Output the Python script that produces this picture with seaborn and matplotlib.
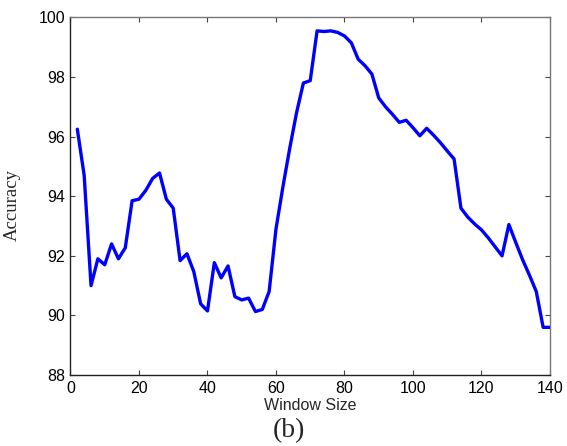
import numpy as np
import pandas as pd
import seaborn as sns
import matplotlib
matplotlib.use('Agg')
import matplotlib.pyplot as plt

# Values
window_size = [2, 4, 6, 8, 10, 12, 14, 16, 18, 20,
               22, 24, 26, 28, 30, 32, 34, 36, 38, 40,
               42, 44, 46, 48, 50, 52, 54, 56, 58, 60,
               62, 64, 66, 68, 70, 72, 74, 76, 78, 80,
               82, 84, 86, 88, 90, 92, 94, 96, 98, 100,
               102, 104, 106, 108, 110, 112, 114, 116, 118, 120,
               122, 124, 126, 128, 130, 132, 134, 136, 138, 140]
accuracy = [96.25, 94.7, 91.0, 91.9, 91.7, 92.4, 91.9, 92.27, 93.85, 93.9,
            94.2, 94.6, 94.78, 93.9, 93.6, 91.84, 92.07, 91.47, 90.39, 90.15,
            91.77, 91.26, 91.66, 90.63, 90.52, 90.58, 90.13, 90.2, 90.8, 92.9,
            94.3, 95.6, 96.8, 97.8, 97.88, 99.55, 99.53, 99.55, 99.5, 99.38,
            99.15, 98.6, 98.38, 98.1, 97.3, 97.0, 96.75, 96.48, 96.55, 96.3,
            96.03, 96.28, 96.05, 95.8, 95.52, 95.25, 93.6, 93.3, 93.07, 92.87,
            92.6, 92.3, 92.0, 93.05, 92.45, 91.87, 91.35, 90.8, 89.6, 89.6]
x_ticks = [0, 20, 40, 60, 80, 100, 120, 140]
y_ticks = [88, 90, 92, 94, 96, 98, 100]

df = pd.DataFrame({'Window Size': window_size, 'Accuracy': accuracy})

sns.set_style('ticks')
plt.rcParams['font.family'] = ['Liberation Sans', 'DejaVu Sans']

fig = plt.figure(figsize=(5.67, 4.46), dpi=100)
ax = fig.add_axes([0.1243, 0.1592, 0.8457, 0.8016])

sns.lineplot(data=df, x='Window Size', y='Accuracy', ax=ax,
             color='#0000ff', linewidth=2.4)

ax.set_xlim(0, 140)
ax.set_ylim(88, 100)
ax.set_xticks(x_ticks)
ax.set_yticks(y_ticks)
ax.tick_params(direction='in', length=3.5, width=0.8, labelsize=11.5,
               top=True, right=True, colors='#444444', labelcolor='black', pad=4)

# MATLAB-like box: dark left/bottom, grey top/right
for side in ['left', 'bottom']:
    ax.spines[side].set_color('#222222')
    ax.spines[side].set_linewidth(1.0)
for side in ['top', 'right']:
    ax.spines[side].set_visible(True)
    ax.spines[side].set_color('#777777')
    ax.spines[side].set_linewidth(1.0)

ax.set_xlabel('Window Size', fontsize=11.5, labelpad=2)
ax.set_ylabel('Accuracy', fontsize=13.5, family=['Liberation Serif', 'DejaVu Serif'])
ax.yaxis.set_label_coords(-0.104, 0.476)

fig.text(0.509, 0.006, '(b)', ha='center', va='bottom', fontsize=20,
         family=['Liberation Serif', 'DejaVu Serif'])

fig.savefig('out.png', dpi=100)
